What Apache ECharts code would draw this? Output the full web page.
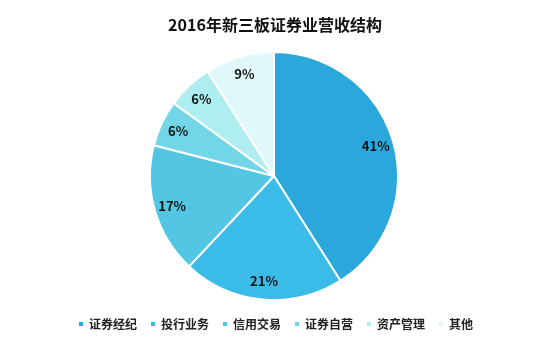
<!DOCTYPE html>
<html><head><meta charset="utf-8">
<script src="https://cdn.jsdelivr.net/npm/echarts@6/dist/echarts.min.js"></script>
<style>html,body{margin:0;padding:0;background:#fff}#c{width:550px;height:344px}</style>
</head><body><div id="c"></div>
<script>
const title = '2016年新三板证券业营收结构';
const categories = ['证券经纪','投行业务','信用交易','证券自营','资产管理','其他'];
const values = [41,21,17,6,6,9];
const colors = ['#2aa8dc','#3bbce8','#52c6e2','#72d6e6','#aeeef1','#e0f8fa'];
const data = categories.map((n,i)=>({name:n,value:values[i],itemStyle:{color:colors[i]}}));
const chart = echarts.init(document.getElementById('c'));
const font = '"Noto Sans CJK SC", sans-serif';
chart.setOption({
  animation:false,
  title:{text:title,left:'center',top:12,textStyle:{fontFamily:font,fontSize:16,fontWeight:'bold',color:'#111'}},
  legend:{bottom:9,left:'center',itemWidth:6,itemHeight:6,itemGap:12,icon:'rect',
    data:categories,
    textStyle:{fontFamily:font,fontSize:12,fontWeight:'bold',color:'#222'}},
  series:[
    {type:'pie',center:[274,176],radius:[0,124],startAngle:90,clockwise:true,
     data:data,label:{show:false},labelLine:{show:false},
     itemStyle:{borderColor:'#fff',borderWidth:2}},
    {type:'pie',center:[274,176],radius:[82,124],startAngle:90,clockwise:true,silent:true,
     data:data.map(d=>({name:d.name,value:d.value,itemStyle:{color:'rgba(0,0,0,0)'}})),
     label:{show:true,position:'inside',formatter:'{c}%',fontFamily:font,fontSize:13,fontWeight:'bold',color:'#111'},
     labelLine:{show:false},itemStyle:{borderWidth:0}}
  ]
});
</script></body></html>
